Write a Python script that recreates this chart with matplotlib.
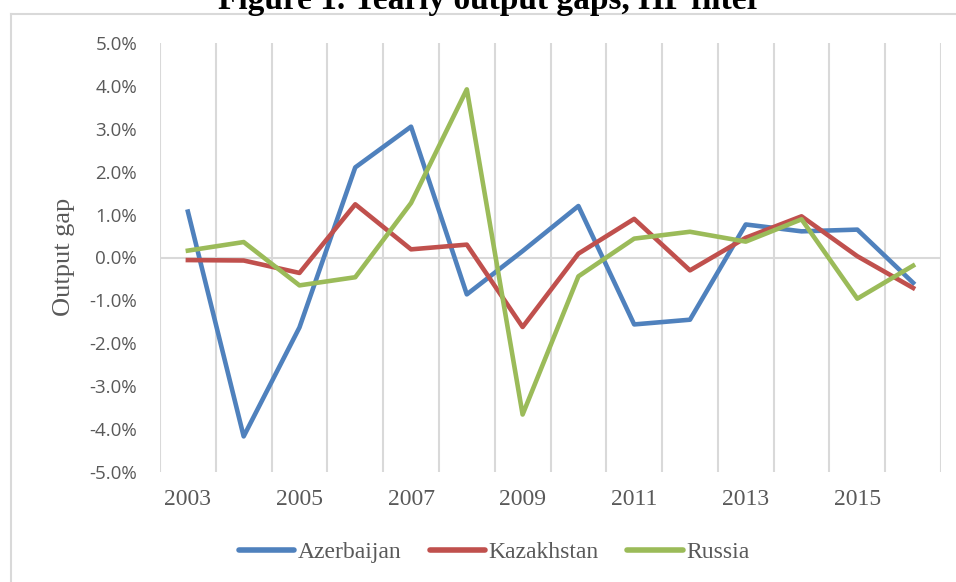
import numpy as np
import matplotlib.pyplot as plt
from matplotlib.lines import Line2D
from matplotlib.ticker import PercentFormatter, MultipleLocator

plt.rcParams['axes.unicode_minus'] = False

years = list(range(2003, 2017))
azerbaijan = [1.07, -4.17, -1.63, 2.10, 3.05, -0.86, 0.15, 1.20, -1.56, -1.45, 0.77, 0.61, 0.65, -0.59]
kazakhstan = [-0.06, -0.07, -0.36, 1.24, 0.19, 0.30, -1.62, 0.09, 0.90, -0.30, 0.46, 0.96, 0.03, -0.71]
russia = [0.16, 0.36, -0.65, -0.46, 1.27, 3.92, -3.66, -0.44, 0.44, 0.60, 0.37, 0.89, -0.96, -0.19]

W, H = 956, 582
grey = '#595959'
fig = plt.figure(figsize=(W / 100, H / 100), dpi=100)
ax = fig.add_axes([160 / W, 1 - 472 / H, (941 - 160) / W, (472 - 43) / H])

ax.plot(years, azerbaijan, color='#4F81BD', lw=3.3, label='Azerbaijan', solid_joinstyle='round')
ax.plot(years, kazakhstan, color='#C0504D', lw=3.3, label='Kazakhstan', solid_joinstyle='round')
ax.plot(years, russia, color='#9BBB59', lw=3.3, label='Russia', solid_joinstyle='round')

ax.set_xlim(2002.5, 2016.5)
ax.set_ylim(-5, 5)
ax.yaxis.set_major_locator(MultipleLocator(1))
ax.yaxis.set_major_formatter(PercentFormatter(decimals=1))
ax.set_xticks(years[::2])
ax.set_xticks(np.arange(2002.5, 2017, 1), minor=True)
ax.grid(True, which='minor', axis='x', color='#D9D9D9', lw=1.5)
ax.axhline(0, color='#D9D9D9', lw=1.5, zorder=0)
ax.tick_params(which='both', length=0)
ax.tick_params(axis='y', labelsize=13.5, labelcolor=grey, pad=16.5)
ax.tick_params(axis='x', pad=12)
for lab in ax.get_yticklabels():
    lab.set_family('Open Sans')
for lab in ax.get_xticklabels():
    lab.set_family('Liberation Serif')
    lab.set_fontsize(17)
    lab.set_color(grey)
for s in ax.spines.values():
    s.set_visible(False)

fig.text(64 / W, 1 - 257 / H, 'Output gap', rotation=90, ha='center', va='center',
         family='Liberation Serif', fontsize=19, color=grey)

handles = [Line2D([], [], color=c, lw=4, solid_capstyle='round') for c in ['#4F81BD', '#C0504D', '#9BBB59']]
fig.legend(handles, ['Azerbaijan', 'Kazakhstan', 'Russia'], loc='center', bbox_to_anchor=(494 / W, 1 - 552 / H),
           ncol=3, frameon=False, prop={'family': 'Liberation Serif', 'size': 17}, handlelength=2.36,
           handletextpad=0.13, columnspacing=1.22, labelcolor=grey, borderpad=0, borderaxespad=0)

fig.text(490 / W, 1 - 9 / H, 'Figure 1. Yearly output gaps, HP filter', ha='center', va='baseline',
         family='Liberation Serif', weight='bold', fontsize=24)

# chart border (left and top edges visible)
fig.add_artist(Line2D([11 / W, 11 / W], [0, 1 - 14 / H], color='#D9D9D9', lw=1.5))
fig.add_artist(Line2D([11 / W, 1], [1 - 14 / H, 1 - 14 / H], color='#D9D9D9', lw=1.5))

fig.savefig('out.png', dpi=100)
